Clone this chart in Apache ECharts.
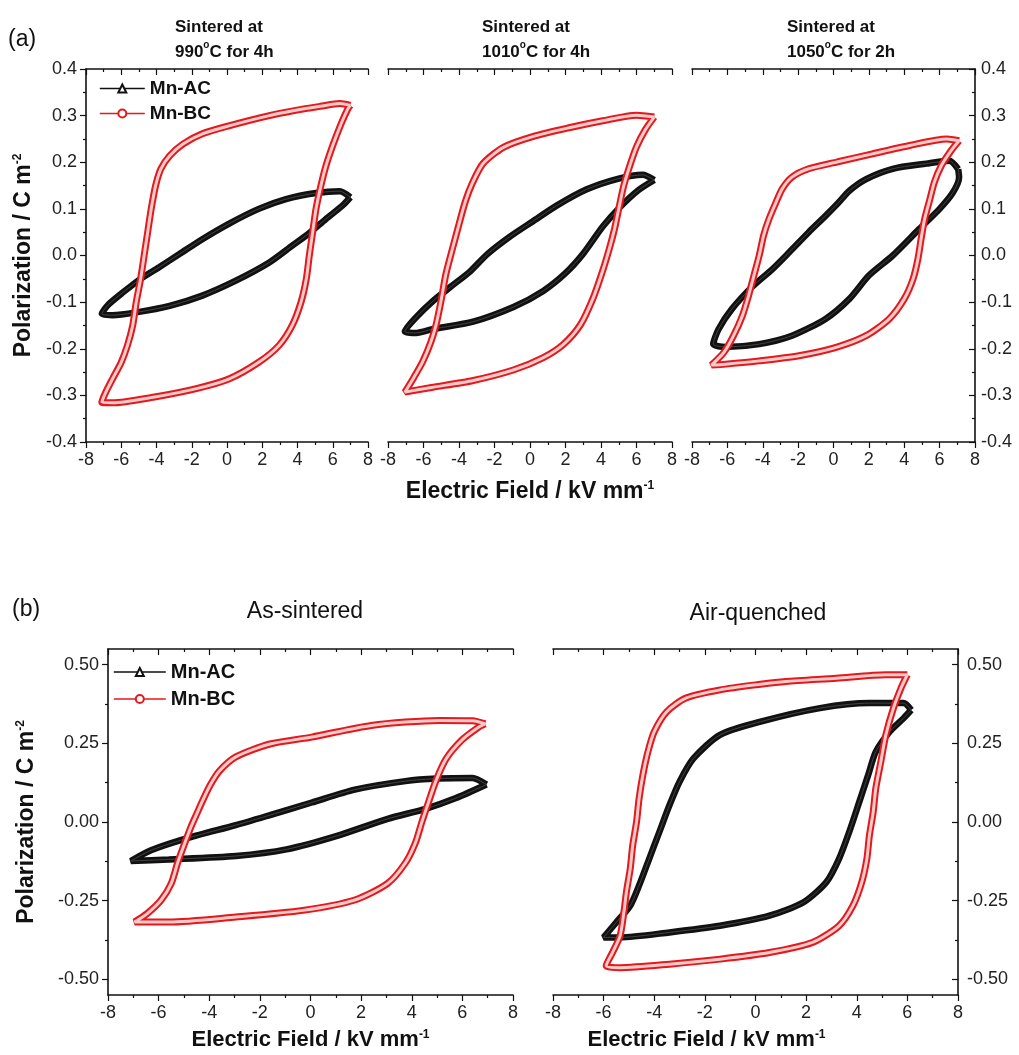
<!DOCTYPE html>
<html>
<head>
<meta charset="utf-8">
<script src="https://cdn.jsdelivr.net/npm/echarts@6/dist/echarts.min.js"></script>
<style>
  html, body { margin: 0; padding: 0; background: #fff; }
  #chart { width: 1019px; height: 1055px; }
</style>
</head>
<body>
<div id="chart"></div>
<script>
// P-E loops
// (a) three sintering conditions, (b) as-sintered vs air-quenched
const FONT = '"Liberation Sans", Arial, sans-serif';
const RED = '#e3191c';
const BLACK = '#111';

const a990_AC = [[7.0,0.125],[6.4,0.138],[5.05,0.134],[3.35,0.121],[1.8,0.1],[0.1,0.068],[-1.4,0.035],[-2.7,0.003],[-3.85,-0.025],[-4.9,-0.05],[-5.9,-0.079],[-6.75,-0.106],[-7.1,-0.125],[-6.5,-0.128],[-5.15,-0.122],[-3.25,-0.108],[-1.4,-0.086],[0.5,-0.054],[2.4,-0.015],[3.7,0.021],[4.67,0.048],[5.6,0.078],[6.55,0.107],[7.0,0.125]];
const a990_BC = [[7.0,0.322],[6.4,0.326],[5.3,0.32],[4.3,0.314],[2.4,0.3],[0.1,0.278],[-1.4,0.261],[-2.5,0.239],[-3.25,0.214],[-3.75,0.186],[-4.05,0.15],[-4.3,0.1],[-4.5,0.05],[-4.7,0.0],[-4.9,-0.05],[-5.15,-0.1],[-5.35,-0.15],[-5.65,-0.193],[-6.0,-0.229],[-6.5,-0.265],[-6.9,-0.295],[-7.1,-0.315],[-6.5,-0.316],[-4.2,-0.304],[-1.8,-0.286],[0.1,-0.265],[1.8,-0.229],[2.95,-0.193],[3.7,-0.15],[4.2,-0.1],[4.5,-0.05],[4.67,0.0],[4.86,0.05],[5.05,0.1],[5.33,0.15],[5.62,0.193],[6.0,0.236],[6.47,0.282],[6.85,0.314],[7.0,0.322]];

const a1010_AC = [[7.0,0.162],[6.35,0.173],[5.0,0.165],[3.2,0.142],[1.5,0.107],[0.15,0.073],[-1.15,0.04],[-2.4,0.003],[-3.4,-0.035],[-4.4,-0.065],[-5.45,-0.097],[-6.4,-0.132],[-7.05,-0.163],[-6.4,-0.166],[-5.5,-0.158],[-3.2,-0.142],[-0.9,-0.11],[0.75,-0.076],[2.0,-0.038],[3.0,0.004],[4.1,0.062],[5.05,0.103],[6.1,0.14],[7.0,0.162]];
const a1010_BC = [[7.0,0.297],[6.0,0.301],[4.1,0.289],[2.2,0.274],[0.15,0.255],[-1.5,0.232],[-2.65,0.197],[-3.25,0.155],[-3.65,0.115],[-4.05,0.06],[-4.45,0.003],[-4.75,-0.042],[-5.0,-0.095],[-5.3,-0.15],[-5.6,-0.187],[-6.05,-0.228],[-6.55,-0.262],[-6.95,-0.287],[-7.05,-0.293],[-5.55,-0.283],[-3.2,-0.268],[-0.9,-0.245],[0.75,-0.219],[1.9,-0.19],[2.85,-0.148],[3.55,-0.092],[4.05,-0.038],[4.45,0.012],[4.75,0.055],[5.0,0.1],[5.27,0.148],[5.6,0.19],[6.0,0.233],[6.5,0.27],[7.0,0.297]];

const a1050_AC = [[7.05,0.185],[6.55,0.203],[5.25,0.197],[3.35,0.186],[1.85,0.164],[0.9,0.139],[0.25,0.112],[-0.45,0.085],[-1.4,0.05],[-2.5,0.007],[-3.45,-0.029],[-4.6,-0.067],[-5.75,-0.115],[-6.5,-0.158],[-6.8,-0.19],[-6.1,-0.196],[-4.2,-0.19],[-2.35,-0.172],[-0.45,-0.136],[0.9,-0.093],[2.0,-0.043],[3.35,0.0],[4.85,0.057],[6.0,0.1],[6.75,0.135],[7.1,0.168],[7.05,0.185]];
const a1050_BC = [[7.1,0.246],[6.4,0.25],[4.3,0.236],[2.2,0.218],[0.25,0.201],[-1.4,0.186],[-2.35,0.168],[-2.9,0.143],[-3.25,0.114],[-3.65,0.078],[-3.95,0.043],[-4.2,0.0],[-4.5,-0.043],[-4.8,-0.086],[-5.15,-0.129],[-5.65,-0.172],[-6.2,-0.208],[-6.9,-0.235],[-6.1,-0.233],[-4.2,-0.226],[-1.95,-0.215],[0.15,-0.197],[1.85,-0.172],[3.15,-0.136],[4.0,-0.093],[4.5,-0.05],[4.77,-0.008],[4.95,0.035],[5.15,0.078],[5.45,0.121],[5.7,0.157],[6.1,0.193],[6.65,0.225],[7.1,0.246]];

const asSint_AC = [[6.95,0.119],[6.4,0.14],[5.0,0.138],[3.75,0.13],[1.75,0.103],[0.05,0.062],[-1.6,0.022],[-2.95,-0.01],[-4.8,-0.05],[-6.3,-0.09],[-7.1,-0.124],[-5.6,-0.119],[-2.95,-0.108],[-0.95,-0.087],[1.05,-0.044],[3.05,0.01],[4.55,0.042],[5.75,0.076],[6.95,0.119]];
const asSint_BC = [[6.9,0.312],[6.4,0.322],[5.1,0.323],[2.4,0.307],[0.05,0.27],[-1.6,0.248],[-2.95,0.207],[-3.6,0.162],[-3.95,0.119],[-4.25,0.07],[-4.5,0.025],[-4.72,-0.015],[-4.98,-0.07],[-5.25,-0.13],[-5.5,-0.195],[-5.9,-0.248],[-6.45,-0.291],[-6.95,-0.318],[-5.6,-0.318],[-2.95,-0.302],[-0.3,-0.281],[1.75,-0.248],[3.05,-0.195],[3.75,-0.13],[4.15,-0.065],[4.4,0.0],[4.65,0.06],[4.95,0.13],[5.35,0.2],[6.0,0.262],[6.65,0.302],[6.9,0.312]];

const airQ_AC = [[6.15,0.356],[5.85,0.378],[4.5,0.378],[2.55,0.362],[0.2,0.319],[-1.4,0.277],[-2.45,0.202],[-3.0,0.128],[-3.4,0.053],[-3.8,-0.032],[-4.2,-0.117],[-4.6,-0.202],[-4.95,-0.266],[-5.5,-0.319],[-6.0,-0.367],[-5.35,-0.367],[-3.4,-0.351],[-1.4,-0.33],[0.55,-0.298],[1.9,-0.255],[2.8,-0.191],[3.3,-0.117],[3.7,-0.032],[4.1,0.064],[4.45,0.149],[4.75,0.223],[5.3,0.287],[5.85,0.33],[6.15,0.356]];
const airQ_BC = [[6.0,0.468],[5.15,0.468],[3.2,0.457],[1.2,0.447],[0.2,0.438],[-1.4,0.42],[-2.75,0.394],[-3.5,0.351],[-4.0,0.287],[-4.25,0.223],[-4.45,0.149],[-4.6,0.074],[-4.7,0.0],[-4.85,-0.074],[-4.95,-0.149],[-5.1,-0.223],[-5.2,-0.287],[-5.35,-0.362],[-5.65,-0.415],[-5.9,-0.457],[-5.35,-0.463],[-3.4,-0.452],[-1.4,-0.436],[0.55,-0.415],[2.25,-0.383],[3.3,-0.33],[3.85,-0.266],[4.2,-0.191],[4.4,-0.117],[4.5,-0.043],[4.65,0.032],[4.75,0.106],[4.95,0.191],[5.15,0.277],[5.45,0.362],[5.75,0.426],[6.0,0.468]];

const yTicksB = [-0.5, -0.25, 0, 0.25, 0.5];
const yMinorB = [-0.375, -0.125, 0.125, 0.375];

const chart = echarts.init(document.getElementById('chart'), null, { renderer: 'canvas' });

const grids = [
  { left: 86, top: 69, width: 282, height: 373 },
  { left: 388, top: 69, width: 284, height: 373 },
  { left: 692, top: 69, width: 283, height: 373 },
  { left: 108, top: 649, width: 405, height: 346 },
  { left: 553, top: 649, width: 405, height: 346 }
];

const axisLine = { onZero: false, lineStyle: { color: BLACK, width: 1.6 } };
const tickStyle = { color: BLACK, width: 1.2 };
const supStyle = { fontSize: 12, fontWeight: 'bold', fontFamily: FONT, color: '#111', verticalAlign: 'top' };

function xAxes(gi, name, nameExtra) {
  const bottom = {
    type: 'value', gridIndex: gi, position: 'bottom', min: -8, max: 8, interval: 2,
    axisLine: axisLine,
    axisTick: { inside: false, length: 6, lineStyle: tickStyle },
    minorTick: { show: true, splitNumber: 2, length: 3, lineStyle: tickStyle },
    axisLabel: { fontSize: 18, color: '#222', margin: 9, fontFamily: FONT },
    splitLine: { show: false }, minorSplitLine: { show: false }
  };
  if (name) {
    Object.assign(bottom, {
      name: name, nameLocation: 'middle', nameGap: 34,
      nameTextStyle: Object.assign({
        fontSize: 22, fontWeight: 'bold', color: '#111', fontFamily: FONT,
        rich: { s: supStyle }
      }, nameExtra || {})
    });
  }
  const top = {
    type: 'value', gridIndex: gi, position: 'top', min: -8, max: 8, interval: 2,
    axisLine: axisLine,
    axisTick: { inside: true, length: 6, lineStyle: tickStyle },
    minorTick: { show: true, splitNumber: 2, length: 3, lineStyle: tickStyle },
    axisLabel: { show: false }, splitLine: { show: false }
  };
  return [bottom, top];
}

const yNameStyle = { fontSize: 23, fontWeight: 'bold', color: '#111', fontFamily: FONT, rich: { s: supStyle } };
const yName = 'Polarization / C m{s|-2}';

function yA(gi, side, show) {
  return {
    type: 'value', gridIndex: gi, position: side, min: -0.4, max: 0.4, interval: 0.1, show: show,
    axisLine: axisLine,
    axisTick: { inside: side === 'right', length: 6, lineStyle: tickStyle },
    minorTick: { show: true, splitNumber: 2, length: 3, lineStyle: tickStyle },
    axisLabel: { fontSize: 18, color: '#222', margin: side === 'right' ? 6 : 9, fontFamily: FONT,
      formatter: v => v.toFixed(1) },
    splitLine: { show: false }
  };
}

function yB(gi, side) {
  return [{
    type: 'value', gridIndex: gi, position: side, min: -0.55, max: 0.55,
    axisLine: axisLine,
    axisTick: { inside: side === 'right', length: 6, lineStyle: tickStyle, customValues: yTicksB },
    axisLabel: { fontSize: 18, color: '#222', margin: 9, fontFamily: FONT, customValues: yTicksB,
      formatter: v => v.toFixed(2) },
    splitLine: { show: false }
  }, {
    // minor ticks only
    type: 'value', gridIndex: gi, position: side, min: -0.55, max: 0.55,
    axisLine: { show: false, onZero: false },
    axisTick: { inside: side === 'right', length: 3, lineStyle: tickStyle, customValues: yMinorB },
    axisLabel: { show: false }, splitLine: { show: false }
  }];
}

const xAxis = [].concat(
  xAxes(0), xAxes(1, 'Electric Field / kV mm{s|-1}', { fontSize: 23 }), xAxes(2),
  xAxes(3, 'Electric Field / kV mm{s|-1}'),
  xAxes(4, 'Electric Field / kV mm{s|-1}', { padding: [0, 98, 0, 0] })
);
xAxis[2].nameGap = 38;

const yAxis = [
  Object.assign(yA(0, 'left', true), { name: yName, nameLocation: 'middle', nameGap: 51, nameRotate: 90, nameTextStyle: yNameStyle }),
  yA(1, 'left', false),
  yA(2, 'right', true)
].concat(
  [Object.assign(yB(3, 'left')[0], { name: yName, nameLocation: 'middle', nameGap: 70, nameRotate: 90, nameTextStyle: yNameStyle }), yB(3, 'left')[1]],
  yB(4, 'right')
);

function loop(name, data, xi, yi) {
  const red = name === 'Mn-BC';
  const out = [{
    name: name, type: 'line', data: data, xAxisIndex: xi, yAxisIndex: yi,
    smooth: 0.25, symbol: red ? 'emptyCircle' : 'emptyTriangle', showSymbol: false,
    lineStyle: { color: red ? RED : BLACK, width: red ? 7 : 6.5 },
    itemStyle: { color: red ? RED : BLACK },
    z: red ? 4 : 2, silent: true
  }];
  out.push({
    name: red ? 'bc-inner' : 'ac-inner', type: 'line', data: data, xAxisIndex: xi, yAxisIndex: yi,
    smooth: 0.25, symbol: 'none',
    lineStyle: red ? { color: '#f6caca', width: 3 } : { color: '#444', width: 1 },
    z: red ? 5 : 3, silent: true
  });
  return out;
}

const series = [].concat(
  loop('Mn-AC', a990_AC, 0, 0), loop('Mn-BC', a990_BC, 0, 0),
  loop('Mn-AC', a1010_AC, 2, 1), loop('Mn-BC', a1010_BC, 2, 1),
  loop('Mn-AC', a1050_AC, 4, 2), loop('Mn-BC', a1050_BC, 4, 2),
  loop('Mn-AC', asSint_AC, 6, 3), loop('Mn-BC', asSint_BC, 6, 3),
  loop('Mn-AC', airQ_AC, 8, 5), loop('Mn-BC', airQ_BC, 8, 5)
);

const legendBase = {
  data: ['Mn-AC', 'Mn-BC'], orient: 'vertical', selectedMode: false,
  itemHeight: 10, lineStyle: { width: 1.6 },
  textStyle: { fontSize: 19, fontWeight: 'bold', color: '#111', fontFamily: FONT }
};

function condTitle(x, t) {
  return {
    type: 'text', left: x, top: 15,
    style: { text: t, fill: '#111', fontSize: 17, fontWeight: 'bold', fontFamily: FONT, lineHeight: 25,
      rich: { s: { fontSize: 10, fontWeight: 'bold', fontFamily: FONT, fill: '#111', verticalAlign: 'top' } } }
  };
}

function centerText(x, y, t) {
  return {
    type: 'text', x: x, y: y,
    style: { text: t, fill: '#111', fontSize: 23, fontFamily: FONT, align: 'center', verticalAlign: 'middle' }
  };
}

chart.setOption({
  animation: false,
  backgroundColor: '#fff',
  grid: grids,
  xAxis: xAxis,
  yAxis: yAxis,
  legend: [
    Object.assign({}, legendBase, { left: 94, top: 74, itemWidth: 45, itemGap: 6 }),
    Object.assign({}, legendBase, { left: 108, top: 657, itemWidth: 52, itemGap: 7,
      textStyle: Object.assign({}, legendBase.textStyle, { fontSize: 20 }) })
  ],
  graphic: [
    { type: 'text', left: 8, top: 28, style: { text: '(a)', fill: '#111', fontSize: 23, fontFamily: FONT } },
    condTitle(175, 'Sintered at\n990{s|o}C for 4h'),
    condTitle(482, 'Sintered at\n1010{s|o}C for 4h'),
    condTitle(787, 'Sintered at\n1050{s|o}C for 2h'),
    { type: 'text', left: 12, top: 598, style: { text: '(b)', fill: '#111', fontSize: 23, fontFamily: FONT } },
    centerText(305, 612, 'As-sintered'),
    centerText(758, 614, 'Air-quenched')
  ],
  series: series
});
</script>
</body>
</html>
